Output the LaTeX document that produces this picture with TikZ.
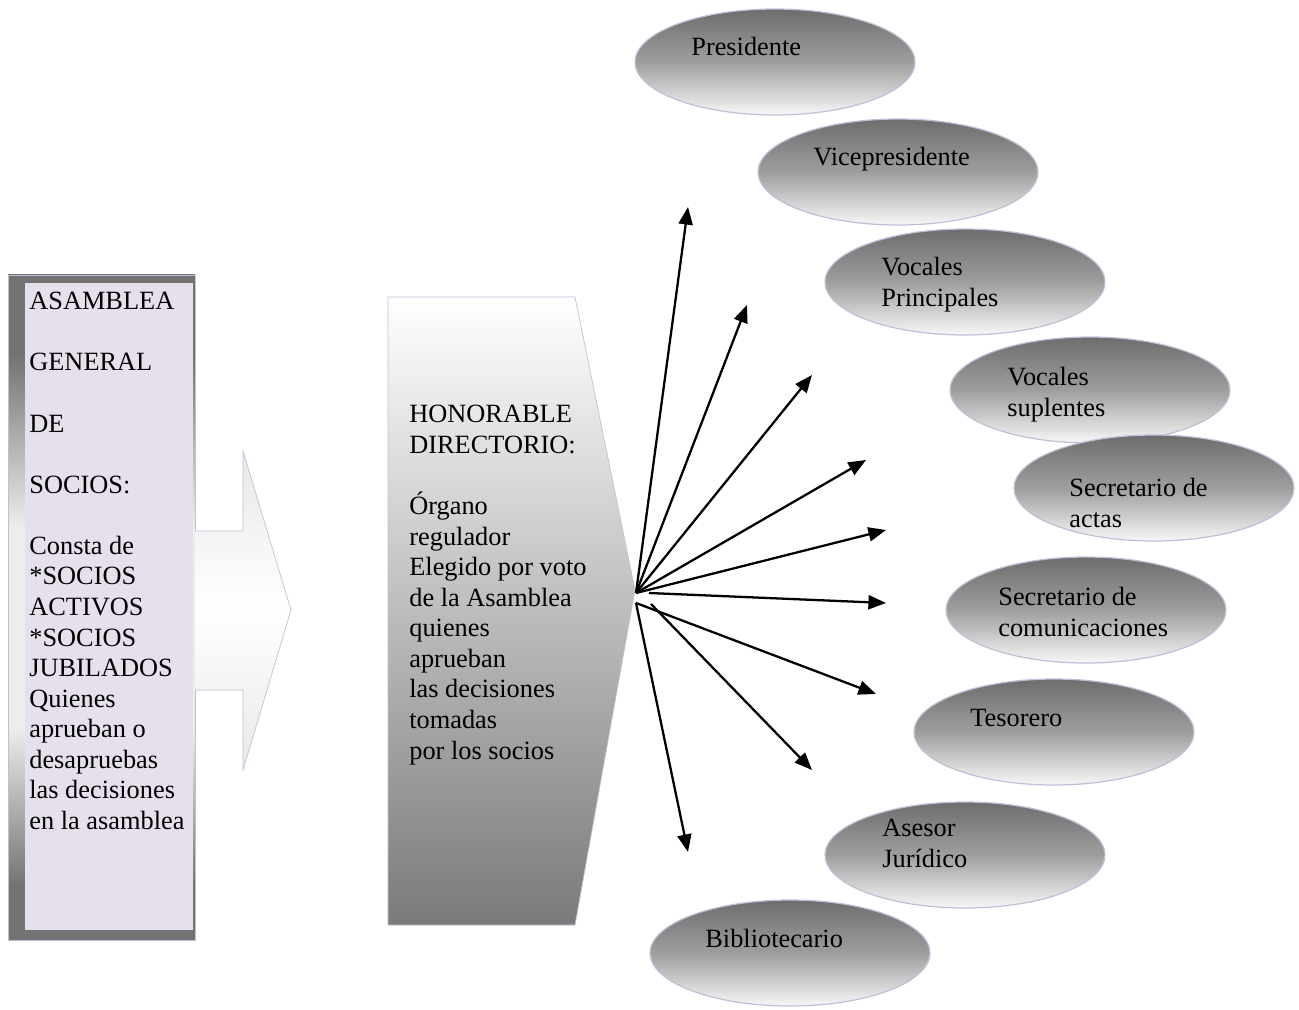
\documentclass[tikz,border=0pt]{standalone}
\usepackage{fontspec}
\setmainfont{Liberation Serif}
\usepackage{tikz}
\usetikzlibrary{shapes, arrows.meta, positioning}
\definecolor{lavfill}{RGB}{229,224,236}
\definecolor{lavline}{RGB}{200,187,216}
\pgfdeclareverticalshading{ovalshade}{100bp}{color(0bp)=(white); color(25bp)=(white!97!black); color(50bp)=(black!38); color(75bp)=(black!57); color(100bp)=(black!57)}
\pgfdeclareverticalshading{bandshade}{100bp}{color(0bp)=(black!55); color(29bp)=(black!55); color(41bp)=(black!7); color(56bp)=(black!7); color(69bp)=(black!55); color(100bp)=(black!55)}
\tikzstyle{oval} = [ellipse, minimum width=5.6cm, minimum height=2.12cm, draw=lavline, line width=0.7pt, shade, shading=ovalshade]
\tikzstyle{txt} = [anchor=north west, inner sep=0pt, align=left]
\tikzstyle{arrow} = [->, >={Triangle[length=10pt, width=8pt]}, line width=1.3pt]
\newcommand{\vgap}{\\[17.4pt]}

\begin{document}
\begin{tikzpicture}[x=0.02cm, y=-0.02cm, font=\fontsize{15}{17.4}\selectfont]

    \useasboundingbox (0, 0) rectangle (1299, 1010);

    % asamblea
    \shade [shading=bandshade, draw=lavline] (8, 275) rectangle (195, 940);
    \fill [lavfill] (25, 283) rectangle (193, 930);
    \node (asam) [txt] at (29, 292) {ASAMBLEA\vgap GENERAL\vgap DE\vgap SOCIOS:\vgap Consta de\\ *SOCIOS\\ ACTIVOS\\ *SOCIOS\\ JUBILADOS\\ Quienes\\ aprueban o\\ desapruebas\\ las decisiones\\ en la asamblea};

    % flecha grande
    \shade [top color=black!9, bottom color=black!9, middle color=white, draw=lavline] (195, 531) -- (243, 531) -- (243, 451) -- (291, 610) -- (243, 770) -- (243, 690) -- (195, 690);

    % directorio
    \shade [top color=white, bottom color=black!52, draw=lavline] (388, 297) -- (575, 297) -- (635, 590) -- (575, 925) -- (388, 925) -- cycle;
    \node (dir) [txt] at (409, 405) {HONORABLE\\ DIRECTORIO:\vgap \'Organo\\ regulador\\ Elegido por voto\\ de la Asamblea\\ quienes\\ aprueban\\ las decisiones\\ tomadas\\ por los socios};

    % cargos
    \node (pres) [oval] at (775, 62) {};
    \node (vice) [oval] at (898, 172) {};
    \node (vocp) [oval] at (965, 282) {};
    \node (vocs) [oval] at (1090, 390) {};
    \node (sact) [oval] at (1154, 488) {};
    \node (scom) [oval] at (1086, 610) {};
    \node (teso) [oval] at (1054, 732) {};
    \node (ases) [oval] at (965, 855) {};
    \node (bibl) [oval] at (790, 953) {};

    \node (pres-t) [txt] at (691, 37) {Presidente};
    \node (vice-t) [txt] at (813, 147) {Vicepresidente};
    \node (vocp-t) [txt] at (881, 257) {Vocales\\ Principales};
    \node (vocs-t) [txt] at (1007, 367) {Vocales\\ suplentes};
    \node (sact-t) [txt] at (1069, 478) {Secretario de\\ actas};
    \node (scom-t) [txt] at (998, 587) {Secretario de\\ comunicaciones};
    \node (teso-t) [txt] at (970, 709) {Tesorero};
    \node (ases-t) [txt] at (882, 819) {Asesor\\ Jur\'idico};
    \node (bibl-t) [txt] at (705, 929) {Bibliotecario};

    % flechas
    \coordinate (hub) at (636, 593);
    \coordinate (hubl) at (636, 603);
    \coordinate (hubr) at (649, 593);
    \coordinate (hubd) at (651, 604);
    \coordinate (e1) at (688, 207);
    \coordinate (e2) at (747, 305);
    \coordinate (e3) at (812, 375);
    \coordinate (e4) at (866, 460);
    \coordinate (e5) at (886, 530);
    \coordinate (e6) at (886, 603);
    \coordinate (e7) at (876, 694);
    \coordinate (e8) at (812, 770);
    \coordinate (e9) at (688, 852);

    \draw [arrow] (hub) -- (e1);
    \draw [arrow] (hub) -- (e2);
    \draw [arrow] (hub) -- (e3);
    \draw [arrow] (hub) -- (e4);
    \draw [arrow] (hub) -- (e5);
    \draw [arrow] (hubr) -- (e6);
    \draw [arrow] (hubl) -- (e7);
    \draw [arrow] (hubd) -- (e8);
    \draw [arrow] (hubl) -- (e9);

\end{tikzpicture}
\end{document}
